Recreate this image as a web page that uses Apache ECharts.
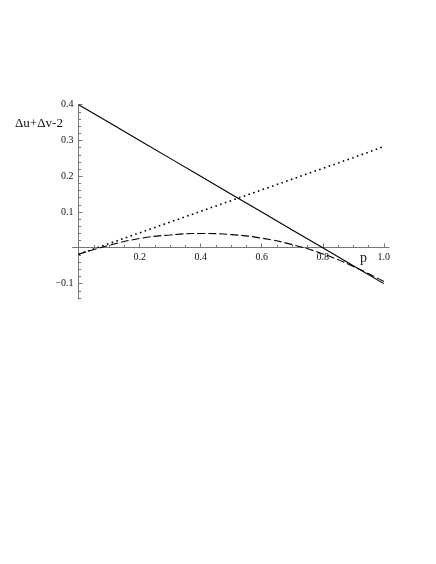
<!DOCTYPE html>
<html>
<head>
<meta charset="utf-8">
<script src="https://cdn.jsdelivr.net/npm/echarts@6/dist/echarts.min.js"></script>
<style>html,body{margin:0;padding:0;background:#fff;}#c{width:436px;height:564px;}</style>
</head>
<body>
<div id="c"></div>
<script>
// data
var pValues = [0, 0.1, 0.2, 0.3, 0.4, 0.5, 0.6, 0.7, 0.8, 0.9, 1.0];
var solidSeries = [0.4, 0.35, 0.3, 0.25, 0.2, 0.15, 0.1, 0.05, 0.0, -0.05, -0.1];
var dottedSeries = [-0.018, 0.012, 0.042, 0.072, 0.102, 0.132, 0.162, 0.192, 0.222, 0.252, 0.283];
var dashedSeries = [-0.018, 0.007, 0.026, 0.036, 0.040, 0.037, 0.027, 0.009, -0.017, -0.052, -0.094];
var xTickLabels = [0.2, 0.4, 0.6, 0.8, 1.0];
var xMinorTicks = [0.05, 0.1, 0.15, 0.25, 0.3, 0.35, 0.45, 0.5, 0.55, 0.65, 0.7, 0.75, 0.85, 0.9, 0.95];
var yTickLabels = [-0.1, 0.1, 0.2, 0.3, 0.4];
var yMinorTicks = [-0.14, -0.12, -0.08, -0.06, -0.04, -0.02, 0.02, 0.04, 0.06, 0.08, 0.12, 0.14, 0.16, 0.18, 0.22, 0.24, 0.26, 0.28, 0.32, 0.34, 0.36, 0.38];

function pairs(ys){ return pValues.map(function(p,i){ return [p, ys[i]]; }); }

var chart = echarts.init(document.getElementById('c'), null, {renderer:'canvas'});
var fontFam = '"Liberation Serif", "DejaVu Serif", serif';
var axisCol = '#777';
function fmt(v){ var s = Math.abs(v).toFixed(1); return v < 0 ? '\u2212' + s : s; }

var X_MIN = -0.02, X_MAX = 1.017, Y_MIN = -0.143, Y_MAX = 0.4;
var hidden = {show:false};

chart.setOption({
  animation:false,
  backgroundColor:'#fff',
  grid:[
    {left:72.5, right:47, top:104.7, bottom:265},   // data
    {left:72.5, right:47, top:104.7, bottom:316.5}, // x axis at y = 0
    {left:78.6, right:47, top:104.7, bottom:265}    // y axis at p = 0
  ],
  xAxis:[
    {type:'value', gridIndex:0, min:X_MIN, max:X_MAX, axisLine:hidden, axisTick:hidden, axisLabel:hidden, splitLine:hidden},
    {type:'value', gridIndex:1, min:X_MIN, max:X_MAX, position:'bottom', splitLine:hidden,
      axisLine:{show:true, onZero:false, lineStyle:{color:axisCol, width:1}},
      axisTick:{show:true, inside:true, length:4, customValues:xTickLabels, lineStyle:{color:axisCol}},
      axisLabel:{show:true, customValues:xTickLabels, formatter:fmt, margin:5,
        fontFamily:fontFam, fontSize:10, color:'#111'}},
    {type:'value', gridIndex:1, min:X_MIN, max:X_MAX, position:'bottom', splitLine:hidden,
      axisLine:{show:false, onZero:false},
      axisTick:{show:true, inside:true, length:2.5, customValues:xMinorTicks, lineStyle:{color:axisCol}},
      axisLabel:hidden},
    {type:'value', gridIndex:2, min:0, max:1, show:false}
  ],
  yAxis:[
    {type:'value', gridIndex:0, min:Y_MIN, max:Y_MAX, axisLine:hidden, axisTick:hidden, axisLabel:hidden, splitLine:hidden},
    {type:'value', gridIndex:1, min:0, max:1, show:false},
    {type:'value', gridIndex:2, min:Y_MIN, max:Y_MAX, position:'left', splitLine:hidden,
      axisLine:{show:true, onZero:false, lineStyle:{color:axisCol, width:1}},
      axisTick:{show:true, inside:true, length:4, customValues:yTickLabels, lineStyle:{color:axisCol}},
      axisLabel:{show:true, customValues:yTickLabels, formatter:fmt, margin:5,
        fontFamily:fontFam, fontSize:10, color:'#111'}},
    {type:'value', gridIndex:2, min:Y_MIN, max:Y_MAX, position:'left', splitLine:hidden,
      axisLine:{show:false, onZero:false},
      axisTick:{show:true, inside:true, length:2.5, customValues:yMinorTicks, lineStyle:{color:axisCol}},
      axisLabel:hidden}
  ],
  graphic:[
    {type:'text', left:15, top:117, style:{text:'\u0394u+\u0394v-2', font:'13px ' + fontFam, fill:'#111'}},
    {type:'text', left:360, top:251, style:{text:'p', font:'14px ' + fontFam, fill:'#111'}}
  ],
  series:[
    {type:'line', xAxisIndex:0, yAxisIndex:0, data:pairs(solidSeries), showSymbol:false, symbol:'none',
      lineStyle:{color:'#000', width:1.1, type:'solid'}},
    {type:'line', xAxisIndex:0, yAxisIndex:0, data:pairs(dottedSeries), showSymbol:false, symbol:'none',
      lineStyle:{color:'#000', width:1.6, type:[1.6,3.4]}},
    {type:'line', xAxisIndex:0, yAxisIndex:0, data:pairs(dashedSeries), showSymbol:false, symbol:'none', smooth:0.5,
      lineStyle:{color:'#000', width:1.1, type:[8,3]}}
  ]
});
</script>
</body>
</html>
